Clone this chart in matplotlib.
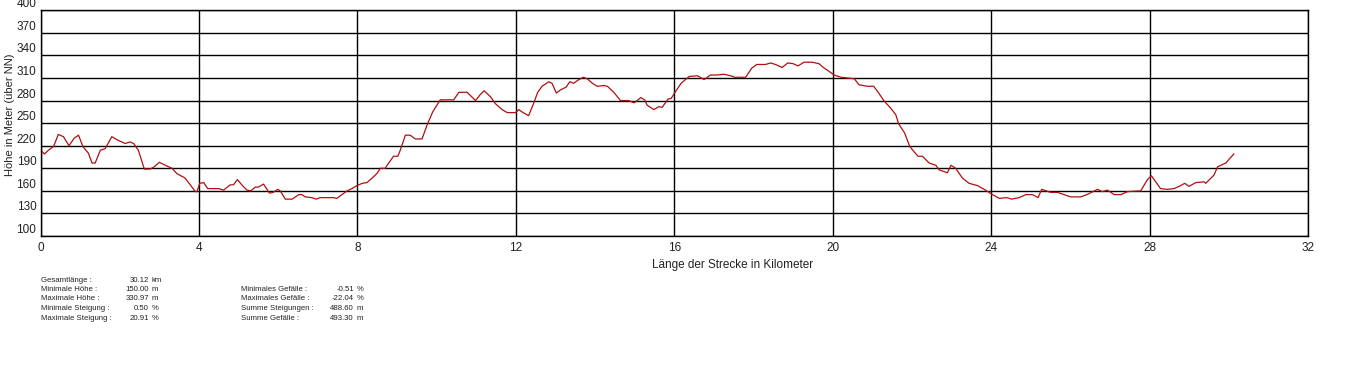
import matplotlib
matplotlib.use("Agg")
import matplotlib.pyplot as plt

plt.rcParams['font.family'] = ['Liberation Sans', 'DejaVu Sans']

distance_km = [0.00, 0.10, 0.20, 0.33, 0.45, 0.58, 0.72, 0.85, 0.96, 1.07, 1.21, 1.30, 1.38, 1.51, 1.63,
               1.80, 1.93, 2.05, 2.14, 2.26, 2.35, 2.47, 2.62, 2.77, 2.87, 3.00, 3.15, 3.32, 3.44, 3.65,
               3.78, 3.91, 3.95, 4.02, 4.12, 4.22, 4.37, 4.50, 4.62, 4.79, 4.87, 4.97, 5.08, 5.21, 5.31,
               5.42, 5.50, 5.63, 5.78, 5.87, 5.99, 6.05, 6.18, 6.35, 6.52, 6.60, 6.68, 6.85, 6.96, 7.06,
               7.40, 7.48, 7.61, 7.74, 7.86, 7.99, 8.12, 8.24, 8.37, 8.49, 8.58, 8.70, 8.79, 8.91, 9.02,
               9.08, 9.21, 9.33, 9.46, 9.63, 9.76, 9.90, 10.09, 10.43, 10.56, 10.77, 10.98, 11.10, 11.20,
               11.36, 11.48, 11.65, 11.78, 11.99, 12.07, 12.18, 12.32, 12.43, 12.55, 12.66, 12.83, 12.91,
               13.02, 13.12, 13.27, 13.36, 13.46, 13.56, 13.70, 13.80, 13.93, 14.05, 14.22, 14.31, 14.47,
               14.64, 14.85, 14.98, 15.06, 15.15, 15.25, 15.31, 15.48, 15.61, 15.69, 15.84, 15.92, 16.03,
               16.17, 16.37, 16.58, 16.75, 16.91, 17.08, 17.25, 17.42, 17.52, 17.80, 17.95, 18.08, 18.30,
               18.43, 18.55, 18.72, 18.86, 19.00, 19.12, 19.27, 19.48, 19.65, 19.76, 19.90, 20.03, 20.20,
               20.54, 20.66, 20.87, 21.03, 21.13, 21.30, 21.46, 21.59, 21.66, 21.81, 21.94, 22.05, 22.15,
               22.26, 22.43, 22.60, 22.68, 22.89, 22.98, 23.10, 23.27, 23.44, 23.65, 23.82, 24.03, 24.20,
               24.39, 24.51, 24.70, 24.87, 25.04, 25.18, 25.27, 25.50, 25.67, 26.00, 26.26, 26.41, 26.68,
               26.80, 26.93, 27.10, 27.27, 27.44, 27.77, 27.94, 28.04, 28.15, 28.27, 28.44, 28.61, 28.74,
               28.88, 28.99, 29.16, 29.37, 29.41, 29.62, 29.71, 29.92, 30.00, 30.12]
elevation_m = [214, 209, 214, 219, 235, 232, 220, 230, 234, 219, 210, 197, 197, 214, 216,
               232, 228, 225, 223, 225, 223, 214, 189, 189, 192, 198, 194, 190, 183, 177,
               168, 159, 159, 170, 171, 163, 163, 163, 161, 168, 168, 175, 168, 161, 160,
               165, 165, 169, 157, 158, 162, 160, 149, 149, 155, 155, 152, 151, 149, 151,
               151, 150, 155, 160, 163, 167, 170, 171, 177, 183, 190, 190, 197, 206, 206,
               214, 234, 234, 229, 229, 248, 265, 281, 281, 291, 291, 280, 288, 293,
               285, 276, 268, 264, 264, 268, 264, 260, 274, 291, 299, 305, 303,
               290, 294, 298, 305, 303, 307, 311, 309, 303, 299, 300, 299, 291,
               280, 280, 277, 280, 284, 281, 274, 268, 272, 271, 282, 283, 292,
               303, 312, 313, 308, 314, 314, 315, 313, 311, 311, 323, 328, 328,
               330, 328, 324, 330, 329, 326, 331, 331, 329, 324, 319, 314, 311,
               309, 301, 299, 299, 292, 279, 270, 261, 249, 237, 219, 212, 206,
               206, 197, 194, 188, 184, 194, 190, 177, 170, 167, 162, 155, 150,
               151, 149, 151, 155, 155, 151, 162, 158, 158, 152, 152, 155, 162,
               159, 161, 155, 155, 159, 160, 175, 180, 172, 163, 162, 163, 166,
               170, 166, 171, 172, 170, 181, 192, 197, 202, 209]

x_ticks = [0, 4, 8, 12, 16, 20, 24, 28, 32]
y_ticks = [100, 130, 160, 190, 220, 250, 280, 310, 340, 370, 400]

stats_left_labels = ["Gesamtlänge :", "Minimale Höhe :", "Maximale Höhe :", "Minimale Steigung :", "Maximale Steigung :"]
stats_left_values = ["30.12", "150.00", "330.97", "0.50", "20.91"]
stats_left_units = ["km", "m", "m", "%", "%"]
stats_right_labels = ["Minimales Gefälle :", "Maximales Gefälle :", "Summe Steigungen :", "Summe Gefälle :"]
stats_right_values = ["-0.51", "-22.04", "488.60", "493.30"]
stats_right_units = ["%", "%", "m", "m"]

W, H = 1358, 367
fig = plt.figure(figsize=(W / 100, H / 100), dpi=100)
fig.patch.set_facecolor('white')

left, right, top, bottom = 40.5, 1308.3, 10.3, 236.0
ax = fig.add_axes([left / W, 1 - bottom / H, (right - left) / W, (bottom - top) / H])
ax.plot(distance_km, elevation_m, color='#b01010', linewidth=0.9)
ax.set_xlim(0, 32)
ax.set_ylim(100, 400)
ax.set_xticks(x_ticks)
ax.set_yticks(y_ticks)
ax.grid(True, color='black', linewidth=1.0)
ax.set_axisbelow(True)
for s in ax.spines.values():
    s.set_color('black')
    s.set_linewidth(1.0)
ax.tick_params(length=0, labelsize=8.5, colors='#222222', pad=4)
for lbl in ax.get_yticklabels():
    lbl.set_verticalalignment('bottom')
ax.tick_params(axis='y', pad=3)

fig.text(10 / W, 1 - 115 / H, "Höhe in Meter (über NN)", rotation=90, ha='center', va='center',
         fontsize=8, color='#222222')
fig.text(733 / W, 1 - 265 / H, "Länge der Strecke in Kilometer", ha='center', va='center',
         fontsize=8.5, color='#222222')

fs = 5.6
rows = [280, 289.5, 299, 308.5, 318]
for i, (l, v, u) in enumerate(zip(stats_left_labels, stats_left_values, stats_left_units)):
    y = 1 - rows[i] / H
    fig.text(41 / W, y, l, ha='left', va='center', fontsize=fs, color='#222222')
    fig.text(149 / W, y, v, ha='right', va='center', fontsize=fs, color='#222222')
    fig.text(152 / W, y, u, ha='left', va='center', fontsize=fs, color='#222222')
for i, (l, v, u) in enumerate(zip(stats_right_labels, stats_right_values, stats_right_units)):
    y = 1 - rows[i + 1] / H
    fig.text(241 / W, y, l, ha='left', va='center', fontsize=fs, color='#222222')
    fig.text(354 / W, y, v, ha='right', va='center', fontsize=fs, color='#222222')
    fig.text(357 / W, y, u, ha='left', va='center', fontsize=fs, color='#222222')

fig.savefig("out.png", dpi=100, facecolor='white')
